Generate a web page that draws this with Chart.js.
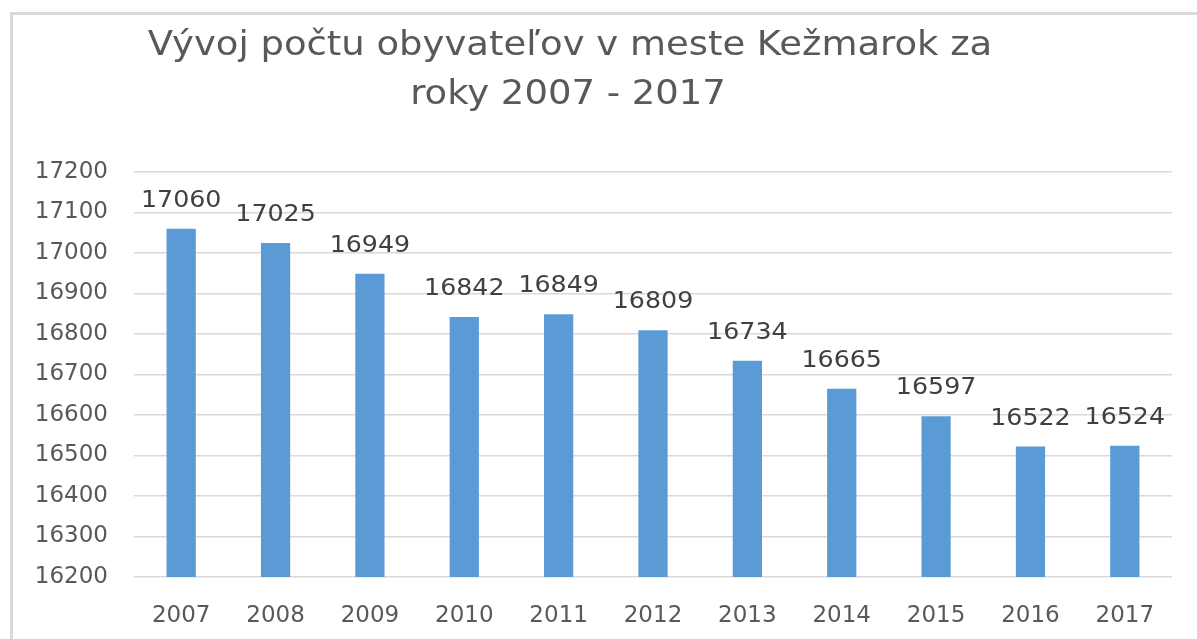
<!DOCTYPE html>
<html>
<head>
<meta charset="utf-8">
<script src="https://cdn.jsdelivr.net/npm/chart.js@4"></script>
<style>
  html, body { margin: 0; padding: 0; overflow: hidden; background: #fff; }
  #frame { position: absolute; left: 10px; top: 12px; width: 1400px; height: 800px; border: 3px solid #d9d9d9; }
  #wrap { position: absolute; left: 0; top: 0; width: 1197px; height: 639px; }
</style>
</head>
<body>
<div id="frame"></div>
<div id="wrap"><canvas id="canvas"></canvas></div>
<script>
// Roky
const labels = ['2007', '2008', '2009', '2010', '2011', '2012', '2013', '2014', '2015', '2016', '2017'];

// Počet obyvateľov
const population = [17060, 17025, 16949, 16842, 16849, 16809, 16734, 16665, 16597, 16522, 16524];

// Titulok
const titleLines = ['Vývoj počtu obyvateľov v meste Kežmarok za', 'roky 2007 - 2017'];

const FONT = '"DejaVu Sans", sans-serif';

// text trochu roztiahnutý do šírky, ako v predlohe
function wideText(ctx, txt, x, y, sx) {
  ctx.save();
  ctx.translate(x, y);
  ctx.scale(sx, 1);
  ctx.fillText(txt, 0, 0);
  ctx.restore();
}

// hodnoty nad stĺpcami + titulok
const labelsPlugin = {
  id: 'valueLabels',
  afterDatasetsDraw(chart) {
    const ctx = chart.ctx;
    const meta = chart.getDatasetMeta(0);
    ctx.save();
    ctx.font = '23px ' + FONT;
    ctx.fillStyle = '#404040';
    ctx.textAlign = 'center';
    ctx.textBaseline = 'middle';
    meta.data.forEach((bar, i) => {
      wideText(ctx, String(population[i]), bar.x, bar.y - 28, 1.1);
    });
    ctx.font = '33px ' + FONT;
    ctx.fillStyle = '#595959';
    wideText(ctx, titleLines[0], 570, 46, 1.12);
    wideText(ctx, titleLines[1], 568, 95, 1.12);
    ctx.restore();
  }
};

const data = {
  labels: labels,
  datasets: [{
    data: population,
    backgroundColor: '#5b9bd5',
    barPercentage: 0.31,
    categoryPercentage: 1,
  }]
};

const config = {
  type: 'bar',
  data: data,
  plugins: [labelsPlugin],
  options: {
    responsive: false,
    animation: false,
    layout: { padding: { left: 24, right: 25, top: 172, bottom: 0 } },
    plugins: { legend: { display: false }, tooltip: { enabled: false }, title: { display: false } },
    scales: {
      x: {
        grid: { display: false },
        border: { display: false },
        ticks: { color: '#595959', font: { family: FONT, size: 23 }, padding: 17 },
        afterFit(s) { s.height = 62; }
      },
      y: {
        min: 16200,
        max: 17200,
        ticks: {
          stepSize: 100,
          color: '#595959',
          font: { family: FONT, size: 23 },
          padding: 26,
          callback: (v) => String(v)
        },
        grid: { color: '#d9d9d9', lineWidth: 1.5, drawTicks: false },
        border: { display: false },
        afterFit(s) { s.width = 110; }
      }
    }
  }
};

const canvas = document.getElementById('canvas');
canvas.width = 1197;
canvas.height = 639;
const chart = new Chart(canvas, config);
</script>
</body>
</html>
